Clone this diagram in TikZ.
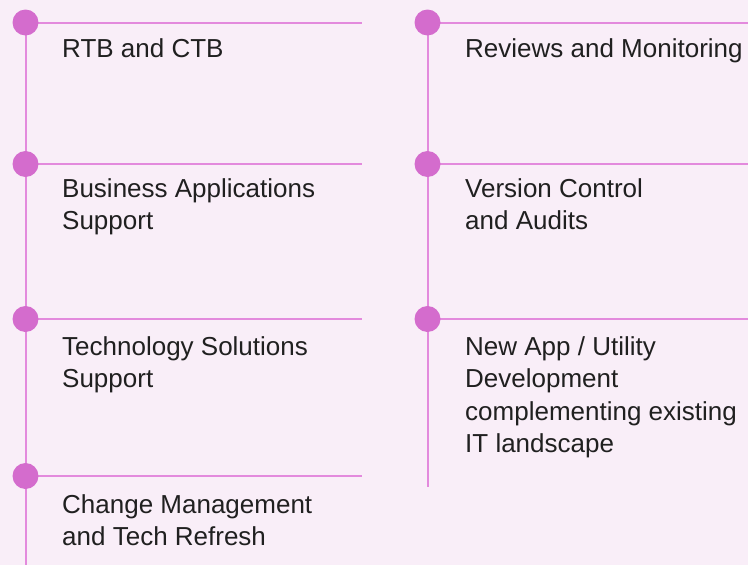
\documentclass[tikz,border=0pt]{standalone}
\usepackage{fontspec}
\setmainfont{Liberation Sans}
\definecolor{bgpink}{HTML}{F9EEF8}
\definecolor{dotpink}{HTML}{D46CCD}
\definecolor{linepink}{HTML}{E38ADD}
\definecolor{txtgray}{HTML}{202020}

\begin{document}
\begin{tikzpicture} [x=1pt, y=-1pt]
    \tikzstyle{dot} = [circle, fill=dotpink, inner sep=0pt, minimum size=26pt]
    \tikzstyle{rail} = [draw=linepink, line width=2pt]
    \tikzstyle{item} = [anchor=north west, inner sep=0pt, align=left, text=txtgray,
                        font=\fontsize{26}{32.5}\selectfont]
    \fill[bgpink] (0,0) rectangle (748,565);
    \useasboundingbox (0,0) rectangle (748,565);

    % left column
    \coordinate (lbot) at (25.5,565);
    \coordinate (le1) at (362,22.5);
    \coordinate (le2) at (362,164);
    \coordinate (le3) at (362,319);
    \coordinate (le4) at (362,476);
    \draw[rail] (25.5,22.5) -- (lbot);
    \foreach \i in {1,...,4} { \draw[rail] (le\i -| lbot) -- (le\i); }
    \node[dot] (l1) at (le1 -| lbot) {};
    \node[dot] (l2) at (le2 -| lbot) {};
    \node[dot] (l3) at (le3 -| lbot) {};
    \node[dot] (l4) at (le4 -| lbot) {};
    \node[item] (t1) at (62,38.4) {RTB and CTB};
    \node[item] (t2) at (62,178.4) {Business Applications\\Support};
    \node[item] (t3) at (62,336.4) {Technology Solutions\\Support};
    \node[item] (t4) at (62,494.4) {Change Management\\and Tech Refresh};

    % right column
    \coordinate (rbot) at (427.5,487);
    \coordinate (re1) at (748,22.5);
    \coordinate (re2) at (748,164);
    \coordinate (re3) at (748,319);
    \draw[rail] (427.5,22.5) -- (rbot);
    \foreach \i in {1,...,3} { \draw[rail] (re\i -| rbot) -- (re\i); }
    \node[dot] (r1) at (re1 -| rbot) {};
    \node[dot] (r2) at (re2 -| rbot) {};
    \node[dot] (r3) at (re3 -| rbot) {};
    \node[item] (s1) at (465,38.4) {Reviews and Monitoring};
    \node[item] (s2) at (465,178.4) {Version Control\\and Audits};
    \node[item] (s3) at (465,336.4) {New App / Utility\\Development\\complementing existing\\IT landscape};
\end{tikzpicture}
\end{document}
